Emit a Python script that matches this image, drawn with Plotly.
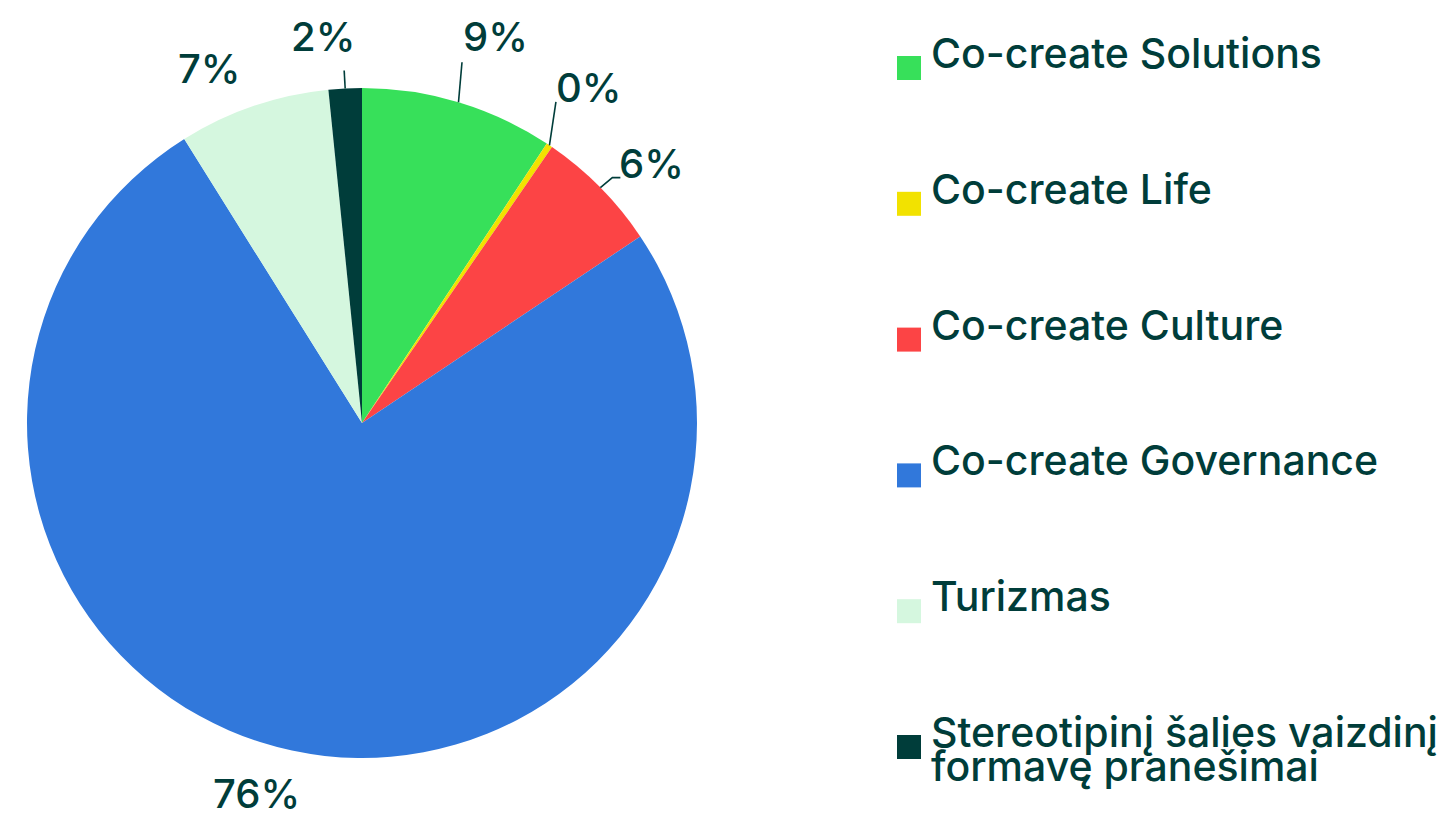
import math
import plotly.graph_objects as go

labels = ["Co-create Solutions", "Co-create Life", "Co-create Culture",
          "Co-create Governance", "Turizmas",
          "Stereotipinį šalies vaizdinį formavę pranešimai"]
legend_lines = [["Co-create Solutions"], ["Co-create Life"], ["Co-create Culture"],
                ["Co-create Governance"], ["Turizmas"],
                ["Stereotipinį šalies vaizdinį", "formavę pranešimai"]]
values = [9.3, 0.3, 6.0, 75.5, 7.3, 1.6]
colors = ["#37e05a", "#f2e200", "#fc4445", "#3178db", "#d5f7df", "#003d3a"]

TEXT = "#003d3a"
FONT = "Inter"
W, H = 1449, 815
OFF = 8  # page body margin offset

# pie geometry (reference pixels)
CX, CY, R = 362, 423, 335

# label placement styling: text centre offset from slice-mid edge point,
# and connector polyline offsets (empty -> no connector)
label_offsets = [(37.5, -65.7), (40, -57.4), (51.1, -24.1),
                 (-35.5, 42.4), (-44, -38), (-21.7, -51.9)]
connector_offsets = [[(3.5, -40)], [(6.5, -43.4)], [(12, -10), (20, -10)],
                     [], [], [(-1, -18)]]


def to_paper(X, Y):
    return (X - OFF) / W, 1 - (Y - OFF) / H


fig = go.Figure()

fig.add_trace(go.Pie(
    labels=labels, values=values, sort=False, direction="clockwise", rotation=0,
    marker=dict(colors=colors, line=dict(width=0)),
    textinfo="none",
    domain=dict(x=[(CX - R - OFF) / W, (CX + R - OFF) / W],
                y=[1 - (CY + R - OFF) / H, 1 - (CY - R - OFF) / H]),
    showlegend=False, hoverinfo="label+percent",
))

# percentage labels with connectors anchored at each slice's mid-angle on the rim
total = sum(values)
cum = 0.0
for v, (tx, ty), conn in zip(values, label_offsets, connector_offsets):
    mid = (cum + v / 2) / total
    cum += v
    ang = 2 * math.pi * mid
    ex, ey = CX + R * math.sin(ang), CY - R * math.cos(ang)
    px, py = to_paper(ex + tx, ey + ty)
    fig.add_annotation(
        x=px, y=py, xref="paper", yref="paper", text=f"{round(v / total * 100)}%",
        showarrow=False, xanchor="center", yanchor="middle",
        font=dict(family=FONT, size=40, color=TEXT, weight=500),
    )
    if conn:
        pts = [to_paper(ex, ey)] + [to_paper(ex + a, ey + b) for a, b in conn]
        path = "M " + " L ".join(f"{a},{b}" for a, b in pts)
        fig.add_shape(type="path", path=path, xref="paper", yref="paper",
                      line=dict(color=TEXT, width=1.6))

# custom legend: square markers placed on a hidden categorical axis
fig.add_trace(go.Scatter(
    x=[0] * len(labels), y=labels, mode="markers",
    marker=dict(symbol="square", size=24, color=colors, line=dict(width=0)),
    xaxis="x", yaxis="y", showlegend=False, hoverinfo="skip",
))

LINE_GAP = 34
for lab, lines in zip(labels, legend_lines):
    for i, txt in enumerate(lines):
        fig.add_annotation(
            x=0, y=lab, xref="x", yref="y", text=txt, showarrow=False,
            xanchor="left", yanchor="middle", align="left",
            xshift=20, yshift=15 - i * LINE_GAP,
            font=dict(family=FONT, size=41, color=TEXT, weight=500),
        )

# legend axis geometry (pixels)
first_c, last_c = 68 - OFF, 747 - OFF
span = (len(labels) - 1) * H / (last_c - first_c)
lo = -first_c * span / H
hi = lo + span
x0, xc = 861, 909 - OFF
fig.update_layout(
    width=W, height=H, margin=dict(l=0, r=0, t=0, b=0),
    paper_bgcolor="white", plot_bgcolor="rgba(0,0,0,0)",
    xaxis=dict(domain=[x0 / W, 1], range=[-(xc - x0) / (W - x0), 1 - (xc - x0) / (W - x0)],
               visible=False, fixedrange=True),
    yaxis=dict(domain=[0, 1], range=[hi, lo], type="category",
               categoryorder="array", categoryarray=labels,
               visible=False, fixedrange=True),
    font=dict(family=FONT, color=TEXT),
)

fig.write_html("out.html")
